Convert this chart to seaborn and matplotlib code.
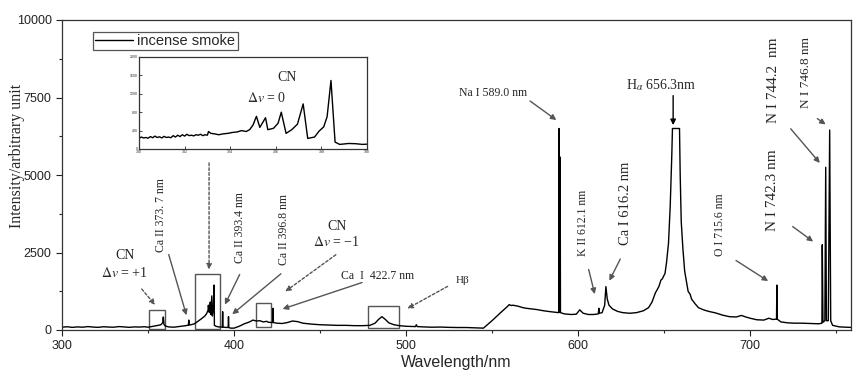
import numpy as np
import pandas as pd
import matplotlib
matplotlib.use('Agg')
import matplotlib.pyplot as plt
import seaborn as sns
from matplotlib.patches import Rectangle
from matplotlib.ticker import MultipleLocator

# main spectrum: wavelength (nm) / intensity
wl = [300, 303, 306, 309, 312, 315, 318, 321, 324, 327, 330, 333, 336, 339, 342, 345, 348,
      350, 352, 354, 356, 357.5, 358.5, 358.9, 359.3, 360, 362, 365, 368, 370, 372, 373.5, 373.7, 373.9,
      375, 377, 379, 381, 383, 384, 385, 385.1, 385.3, 385.5, 385.7, 386.2, 386.5, 387.1, 387.4,
      388.0, 388.4, 388.6, 389.5, 391, 393.2, 393.4, 393.6, 396.6, 396.8, 397.0, 398, 400,
      403, 406, 409, 411, 413, 415, 417, 419, 420, 422.5, 422.7, 422.9, 425, 428, 431, 434, 437,
      440, 445, 450, 455, 460, 465, 470, 475, 479, 482, 484, 486, 488, 490, 493, 496, 500,
      503, 505.5, 506, 506.5, 510, 515, 520, 525, 530, 535, 540, 545,
      550, 555, 559, 560, 561, 562, 565, 568, 570, 573, 576, 580, 584, 588.8, 589.0, 589.2,
      589.5, 589.6, 589.8, 592, 596, 599, 601, 603, 606, 609, 611.8, 612.1, 612.4, 614,
      615.5, 616.2, 617, 618, 620, 623, 626, 630, 634, 638, 641, 643, 645, 647, 648.2, 649,
      650.6, 651.5, 652.6, 653.6, 654.5, 654.9, 659.0, 659.4, 660, 661, 662, 664, 665.2, 666,
      668, 670, 673, 676, 680, 684, 688, 692, 695, 697, 700, 704, 708, 711, 713, 715.4, 715.6,
      715.8, 718, 722, 726, 730, 735, 740, 741.8, 742.0, 742.4, 743.5, 744.0, 744.4, 745.5,
      746.3, 746.9, 748, 752, 756, 760]
inten = [90, 105, 85, 100, 90, 110, 95, 85, 105, 95, 90, 110, 100, 85, 100, 95, 105,
         90, 110, 130, 150, 170, 230, 420, 180, 130, 100, 90, 110, 120, 140, 160, 320, 160,
         170, 200, 280, 360, 450, 520, 650, 800, 600, 780, 560, 900, 500, 1100, 450,
         700, 1450, 150, 120, 100, 95, 590, 90, 80, 430, 80, 60, 60,
         120, 200, 260, 320, 290, 300, 260, 280, 250, 240, 700, 240, 220, 210, 240, 290, 270,
         220, 190, 170, 160, 150, 150, 140, 140, 150, 220, 340, 430, 340, 230, 170, 140, 120,
         115, 110, 170, 110, 100, 90, 95, 85, 80, 80, 70, 60,
         300, 560, 760, 820, 790, 800, 770, 720, 700, 680, 660, 620, 590, 560, 6500, 600,
         580, 5580, 560, 520, 500, 510, 650, 540, 500, 500, 520, 700, 540, 560,
         800, 1400, 1000, 800, 680, 600, 560, 540, 560, 620, 720, 900, 1200, 1400, 1610, 1650,
         1830, 2200, 2800, 4000, 5600, 6500, 6500, 5000, 3500, 2600, 1900, 1250, 1150, 1000,
         850, 720, 650, 600, 550, 480, 430, 420, 470, 430, 380, 330, 320, 380, 340, 350, 1450,
         350, 260, 230, 220, 220, 210, 200, 220, 2750, 250, 300, 5250, 300, 300,
         6450, 300, 150, 100, 90, 80]

# inset: CN (delta v = 0) band head region
wl_in = [380.0, 380.1, 380.2, 380.3, 380.4, 380.5, 380.6, 380.7, 380.8, 380.9, 381.0, 381.1,
         381.2, 381.3, 381.4, 381.5, 381.6, 381.7, 381.8, 381.9, 382.0, 382.1, 382.2, 382.3,
         382.4, 382.5, 382.6, 382.7, 382.8, 382.9, 383.0, 383.05, 383.15, 383.3, 383.5, 383.7,
         383.9, 384.1, 384.3, 384.5, 384.7, 384.85, 385.0, 385.15, 385.3, 385.55, 385.65,
         385.9, 386.1, 386.24, 386.45, 386.7, 386.95, 387.2, 387.4, 387.7, 387.9, 388.1,
         388.25, 388.42, 388.6, 388.8, 389.0, 389.2, 389.5, 389.8, 390.0]
inten_in = [230, 260, 240, 250, 235, 270, 245, 280, 250, 265, 240, 275,
            250, 260, 245, 290, 260, 300, 270, 310, 280, 320, 290, 300,
            285, 310, 300, 320, 290, 310, 300, 380, 340, 330, 310, 330,
            340, 360, 370, 400, 380, 420, 520, 710, 470, 680, 420,
            450, 560, 800, 340, 420, 540, 980, 230, 260, 390, 480,
            700, 1490, 150, 100, 110, 120, 115, 100, 105]

# highlighted regions (x0, x1, y0, y1)
boxes = [(350.4, 360.1, 40, 645), (377.6, 392.0, 40, 1800),
         (412.6, 421.4, 110, 880), (478.0, 495.8, 60, 770)]

df = pd.DataFrame({'wl': wl, 'I': inten})
df_in = pd.DataFrame({'wl': wl_in, 'I': inten_in})

sns.set_style('ticks')
plt.rcParams['font.family'] = ['Liberation Sans', 'DejaVu Sans']
plt.rcParams['mathtext.fontset'] = 'stix'
serif = ['Liberation Serif', 'DejaVu Serif']
grey = '#555555'

fig = plt.figure(figsize=(8.6, 3.77), dpi=100)
ax = fig.add_axes([62 / 860, 1 - 330 / 377, 789 / 860, 310 / 377])
sns.lineplot(data=df, x='wl', y='I', ax=ax, color='black', lw=1.0, sort=False,
             estimator=None, label='incense smoke')
ax.set_xlim(300, 758.7)
ax.set_ylim(0, 10000)
ax.xaxis.set_major_locator(MultipleLocator(100))
ax.xaxis.set_minor_locator(MultipleLocator(50))
ax.yaxis.set_major_locator(MultipleLocator(2500))
ax.yaxis.set_minor_locator(MultipleLocator(1250))
ax.tick_params(which='major', direction='out', length=4, width=0.8, labelsize=9, colors='#222')
ax.tick_params(which='minor', direction='out', length=2.5, width=0.8)
for s in ax.spines.values():
    s.set_color('#333')
    s.set_linewidth(0.9)
ax.set_xlabel('Wavelength/nm', fontsize=11.5, labelpad=2)
ax.set_ylabel('Intensity/arbitrary unit', fontsize=11.5, family=serif)
ax.yaxis.set_label_coords(-0.047, 0.56)

leg = ax.legend(loc='upper left', bbox_to_anchor=(0.03, 0.985), fontsize=10.5, fancybox=False,
                edgecolor=grey, handlelength=2.6, borderpad=0.15, handletextpad=0.3,
                framealpha=1)
leg.get_frame().set_linewidth(0.9)

for x0, x1, y0, y1 in boxes:
    ax.add_patch(Rectangle((x0, y0), x1 - x0, y1 - y0, fill=False, ec=grey, lw=1.0))

solid = dict(arrowstyle='-|>', color=grey, lw=1.0, mutation_scale=8)
dashed = dict(arrowstyle='-|>', color=grey, lw=1.0, ls=(0, (2, 1.5)), mutation_scale=8)

def label(x, y, txt, size=8.5, rot=0):
    ax.text(x, y, txt, fontsize=size, family=serif, ha='center', va='center', rotation=rot)

def arrow(tip, tail, props):
    ax.annotate('', xy=tip, xytext=tail, arrowprops=props, annotation_clip=False)

label(336.6, 2390, 'CN', 10)
label(336.6, 1840, '$\\Delta v$ = +1', 10)
arrow((355.2, 740), (345.3, 1390), dashed)
label(357.5, 3710, 'Ca II 373. 7 nm', rot=90)
arrow((372.8, 390), (361.6, 2520), solid)
arrow((385.5, 1860), (385.5, 5480), dashed)
label(403.5, 3290, 'Ca II 393.4 nm', rot=90)
arrow((394.0, 740), (404.0, 1870), solid)
label(429.0, 3230, 'Ca II 396.8 nm', rot=90)
arrow((397.7, 450), (428.5, 1870), solid)
label(459.7, 3330, 'CN', 10)
label(459.7, 2850, '$\\Delta v$ = \u22121', 10)
arrow((428.5, 1190), (460.5, 2480), dashed)
label(483.7, 1740, 'Ca  I  422.7 nm')
arrow((426.7, 650), (476.0, 1560), solid)
label(533.0, 1610, 'H\u03b2', 8)
arrow((499.4, 650), (525.6, 1450), dashed)
label(550.6, 7650, 'Na I 589.0 nm')
arrow((588.7, 6720), (570.8, 7440), solid)
label(602.9, 3450, 'K II 612.1 nm', rot=90)
arrow((610.1, 1070), (605.8, 2040), solid)
label(627.6, 4100, 'Ca I 616.2 nm', 10.5, rot=90)
arrow((617.5, 1510), (625.3, 2370), solid)
label(648.6, 7900, 'H$_{\\alpha}$ 656.3nm', 10)
arrow((655.3, 6520), (655.3, 7650), dict(arrowstyle='-|>', color='black', lw=1.0, mutation_scale=8))
label(682.7, 3390, 'O I 715.6 nm', rot=90)
arrow((711.9, 1530), (690.5, 2290), solid)
label(712.8, 4520, 'N I 742.3 nm', 11, rot=90)
arrow((738.0, 2800), (723.5, 3390), solid)
label(713.9, 8060, 'N I 744.2  nm', 11, rot=90)
arrow((741.6, 5320), (722.6, 6560), solid)
label(732.6, 8320, 'N I 746.8 nm', 9.5, rot=90)
arrow((745.3, 6580), (737.8, 6870), solid)

# inset
axi = fig.add_axes([139 / 860, 1 - 149 / 377, 228 / 860, 92 / 377])
sns.lineplot(data=df_in, x='wl', y='I', ax=axi, color='black', lw=1.0, sort=False, estimator=None)
axi.set_xlim(380, 390)
axi.set_ylim(0, 2000)
axi.xaxis.set_major_locator(MultipleLocator(2))
axi.yaxis.set_major_locator(MultipleLocator(400))
axi.tick_params(direction='in', length=2, width=0.6, labelsize=2.5, pad=1)
axi.set_xlabel('')
axi.set_ylabel('')
for s in axi.spines.values():
    s.set_color('#333')
    s.set_linewidth(0.9)
axi.text(386.5, 1560, 'CN', fontsize=10, family=serif, ha='center', va='center')
axi.text(385.6, 1100, '$\\Delta v$ = 0', fontsize=10, family=serif, ha='center', va='center')

fig.savefig('out.png', dpi=100)
